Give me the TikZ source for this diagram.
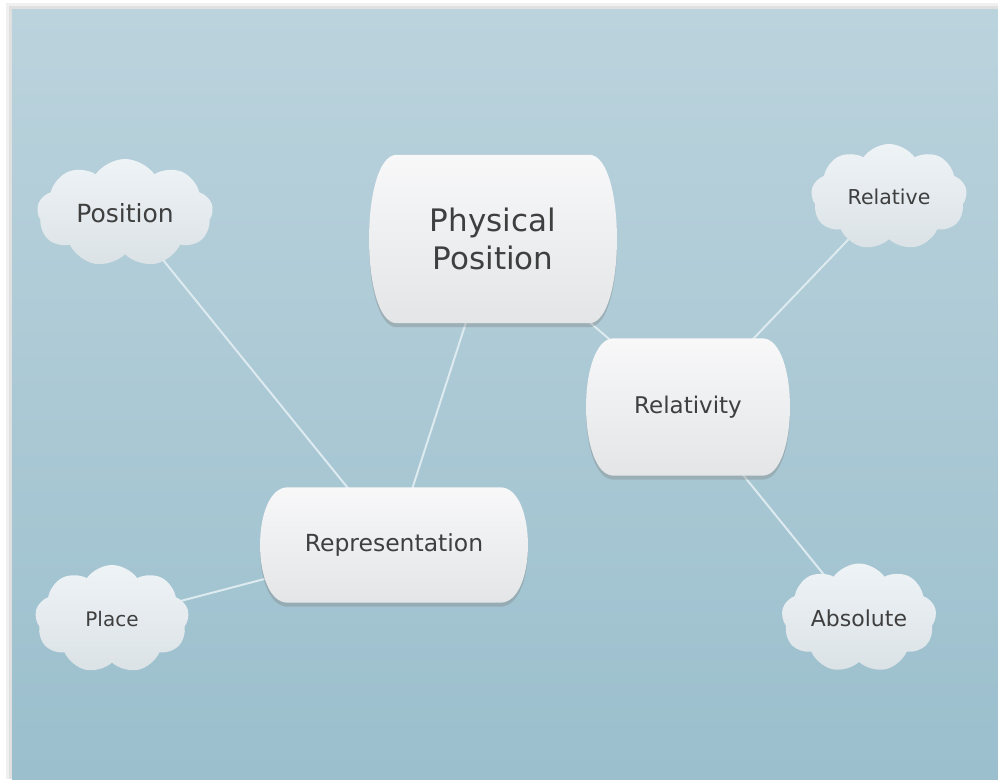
\documentclass[tikz,border=0pt]{standalone}
\usepackage{fontspec}
\setmainfont{DejaVu Sans}
\usepackage{tikz}
\usetikzlibrary{shapes.symbols,shadows}
\definecolor{paneltop}{HTML}{BBD3DD}
\definecolor{panelbot}{HTML}{9BBFCD}
\definecolor{boxtop}{HTML}{F8F8F9}
\definecolor{boxbot}{HTML}{E3E5E7}
\definecolor{cloudtop}{HTML}{EEF3F6}
\definecolor{cloudbot}{HTML}{DBE2E6}
\definecolor{txt}{HTML}{3F3F3F}
\definecolor{linkcol}{HTML}{DDEAEF}
\pgfdeclarelayer{panel}
\pgfdeclarelayer{links}
\pgfdeclarelayer{boxes}
\pgfsetlayers{panel,links,boxes,main}
\newcommand*{\barrel}[1]{
\path[boxshape] ([xshift=28pt]#1.north west) -- ([xshift=-28pt]#1.north east)
  .. controls ([xshift=9pt]#1.north east) and ([xshift=9pt]#1.south east)
  .. ([xshift=-28pt]#1.south east) -- ([xshift=28pt]#1.south west)
  .. controls ([xshift=-9pt]#1.south west) and ([xshift=-9pt]#1.north west)
  .. cycle;
}

\begin{document}
\begin{tikzpicture}[x=1pt,y=-1pt,
 topic/.style={rectangle, inner sep=0pt, text=txt, align=center},
 boxshape/.style={top color=boxtop, bottom color=boxbot,
   drop shadow={shadow xshift=0pt, shadow yshift=-4pt, opacity=0.35}},
 idea/.style={cloud, cloud puffs=9, cloud puff arc=110, cloud ignores aspect,
   inner sep=0pt, top color=cloudtop, bottom color=cloudbot, text=txt},
 link/.style={draw=linkcol, line width=2pt}]
\useasboundingbox (0,0) rectangle (998,779);
\begin{pgfonlayer}{panel}
\fill[black!6] (6,3) rectangle (998,779);
\fill[black!12] (9,6) rectangle (998,779);
\shade[top color=paneltop, bottom color=panelbot] (12,9) rectangle (998,779);
\end{pgfonlayer}

\node[topic, minimum width=248pt, minimum height=168pt,
  font=\fontsize{31}{38}\selectfont] (phys) at (493,239) {Physical\\Position};
\node[topic, minimum width=204pt, minimum height=137pt,
  font=\fontsize{23}{28}\selectfont] (relty) at (688,407) {Relativity};
\node[topic, minimum width=268pt, minimum height=115pt,
  font=\fontsize{23.5}{28}\selectfont] (repr) at (394,545) {Representation};

\node[idea, minimum width=176pt, minimum height=108pt,
  font=\fontsize{25}{30}\selectfont] (pos) at (125,213) {Position};
\node[idea, minimum width=156pt, minimum height=106pt,
  font=\fontsize{20.5}{25}\selectfont] (relv) at (889,197) {Relative};
\node[idea, minimum width=154pt, minimum height=108pt,
  font=\fontsize{20}{24}\selectfont] (place) at (112,619) {Place};
\node[idea, minimum width=155pt, minimum height=109pt,
  font=\fontsize{22}{26}\selectfont] (abs) at (859,618) {Absolute};

\begin{pgfonlayer}{boxes}
\barrel{phys}
\barrel{relty}
\barrel{repr}
\end{pgfonlayer}

\begin{pgfonlayer}{links}
\draw[link] (pos.center) -- (repr.center);
\draw[link] (phys.center) -- (repr.center);
\draw[link] (place.center) -- (repr.center);
\draw[link] (phys.center) -- (relty.center);
\draw[link] (relty.center) -- (relv.center);
\draw[link] (relty.center) -- (abs.center);
\end{pgfonlayer}
\end{tikzpicture}
\end{document}
